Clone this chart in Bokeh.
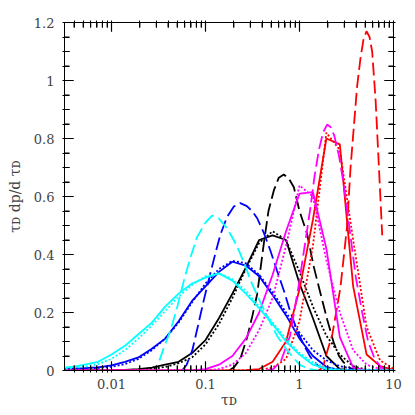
import math
from bokeh.plotting import figure
from bokeh.models import Range1d, FixedTicker, CustomJSTickFormatter, LogAxis, LinearAxis
from bokeh.embed import file_html
from bokeh.resources import INLINE

# ---- data: log10(tau_D) sample grid and curve values ----
grid_log = [-2.571, -2.429, -2.286, -2.143, -2.0, -1.857, -1.714, -1.571, -1.429,
            -1.286, -1.143, -1.0, -0.857, -0.714, -0.571, -0.429, -0.286, -0.143,
            0.0, 0.143, 0.286, 0.429, 0.571, 0.714, 0.857, 1.0]

cyan_solid = [0.008, 0.012, 0.02, 0.03, 0.055, 0.085, 0.125, 0.165, 0.22, 0.265, 0.30,
              0.32, 0.335, 0.31, 0.265, 0.215, 0.16, 0.10, 0.055, 0.02, 0.005, 0, 0, 0, 0, 0]
cyan_dotted = [0.005, 0.008, 0.013, 0.022, 0.04, 0.07, 0.11, 0.155, 0.205, 0.255, 0.295,
               0.325, 0.335, 0.315, 0.275, 0.22, 0.165, 0.11, 0.06, 0.028, 0.01, 0.003, 0, 0, 0, 0]
blue_solid = [0.005, 0.006, 0.008, 0.011, 0.018, 0.03, 0.045, 0.075, 0.11, 0.17, 0.24,
              0.29, 0.34, 0.375, 0.362, 0.325, 0.26, 0.19, 0.11, 0.05, 0.012, 0.002, 0, 0, 0, 0]
blue_dotted = [0.003, 0.004, 0.006, 0.009, 0.013, 0.022, 0.04, 0.07, 0.11, 0.165, 0.235,
               0.30, 0.35, 0.378, 0.37, 0.33, 0.27, 0.20, 0.13, 0.07, 0.035, 0.015, 0.005, 0.001, 0, 0]
black_solid = [0, 0, 0, 0, 0, 0.002, 0.005, 0.01, 0.02, 0.03, 0.06, 0.105, 0.18, 0.265,
               0.355, 0.45, 0.466, 0.45, 0.30, 0.18, 0.05, 0.005, 0, 0, 0, 0]
black_dotted = [0, 0, 0, 0, 0, 0.0, 0.003, 0.006, 0.012, 0.025, 0.045, 0.09, 0.16, 0.25,
                0.35, 0.44, 0.48, 0.45, 0.34, 0.22, 0.12, 0.055, 0.015, 0.003, 0, 0]
magenta_solid = [0, 0, 0, 0, 0, 0, 0, 0, 0, 0, 0, 0.005, 0.02, 0.05, 0.11, 0.20, 0.33,
                 0.48, 0.61, 0.615, 0.42, 0.115, 0.01, 0, 0, 0]
magenta_dotted = [0, 0, 0, 0, 0, 0, 0, 0, 0, 0, 0, 0.0, 0.005, 0.02, 0.06, 0.14, 0.25,
                  0.43, 0.638, 0.60, 0.38, 0.20, 0.07, 0.02, 0.005, 0]
red_solid = [0, 0, 0, 0, 0, 0, 0, 0, 0, 0, 0, 0, 0, 0, 0.001, 0.005, 0.03, 0.10, 0.28,
             0.52, 0.80, 0.78, 0.29, 0.055, 0.015, 0.002]
red_dotted = [0, 0, 0, 0, 0, 0, 0, 0, 0, 0, 0, 0, 0, 0, 0, 0.002, 0.01, 0.04, 0.17,
              0.43, 0.82, 0.76, 0.45, 0.15, 0.035, 0.006]

cyan_dash_log = [-1.49, -1.43, -1.37, -1.30, -1.23, -1.16, -1.09, -1.00, -0.93, -0.86, -0.77,
                 -0.70, -0.64, -0.57, -0.52, -0.43, -0.34, -0.24, -0.13, 0.0, 0.1, 0.2]
cyan_dash = [0.035, 0.09, 0.14, 0.22, 0.31, 0.39, 0.46, 0.51, 0.534, 0.525, 0.49,
             0.45, 0.41, 0.355, 0.31, 0.245, 0.184, 0.12, 0.069, 0.02, 0.005, 0.0]
blue_dash_log = [-1.25, -1.20, -1.14, -1.09, -1.02, -0.95, -0.89, -0.84, -0.77, -0.70, -0.63,
                 -0.56, -0.50, -0.45, -0.38, -0.31, -0.24, -0.167, -0.10, -0.025, 0.05,
                 0.117, 0.20, 0.28, 0.35]
blue_dash = [0.0, 0.02, 0.07, 0.14, 0.24, 0.333, 0.41, 0.47, 0.53, 0.565, 0.577,
             0.567, 0.548, 0.525, 0.475, 0.414, 0.345, 0.276, 0.205, 0.138, 0.085,
             0.046, 0.015, 0.003, 0.0]
black_dash_log = [-0.75, -0.70, -0.63, -0.556, -0.50, -0.45, -0.38, -0.33, -0.273, -0.22,
                  -0.167, -0.11, -0.06, 0.0, 0.082, 0.15, 0.22, 0.295, 0.365, 0.42, 0.47,
                  0.54, 0.60]
black_dash = [0.0, 0.01, 0.04, 0.115, 0.19, 0.264, 0.437, 0.55, 0.621, 0.665,
              0.676, 0.66, 0.632, 0.55, 0.47, 0.36, 0.27, 0.175, 0.095, 0.05, 0.028,
              0.008, 0.0]
magenta_dash_log = [-0.35, -0.28, -0.20, -0.10, 0.0, 0.06, 0.117, 0.16, 0.206, 0.25, 0.294,
                    0.33, 0.37, 0.42, 0.47, 0.54, 0.60, 0.667, 0.73, 0.80, 0.87, 0.95]
magenta_dash = [0.0, 0.005, 0.03, 0.12, 0.31, 0.44, 0.563, 0.67, 0.76, 0.82, 0.848,
                0.84, 0.81, 0.74, 0.644, 0.47, 0.32, 0.20, 0.10, 0.04, 0.01, 0.0]
red_dash_log = [0.20, 0.25, 0.277, 0.35, 0.436, 0.507, 0.543, 0.578, 0.613, 0.65, 0.68,
                0.713, 0.745, 0.773, 0.81, 0.845, 0.88]
red_dash = [0.0, 0.01, 0.046, 0.126, 0.287, 0.50, 0.70, 0.84, 0.98, 1.08, 1.14,
            1.17, 1.15, 1.10, 0.93, 0.70, 0.466]

x_major = [0.01, 0.1, 1, 10]
x_minor = [m * d for d in (0.001, 0.01, 0.1, 1) for m in range(2, 10)]
y_major = [0, 0.2, 0.4, 0.6, 0.8, 1.0, 1.2]
y_minor = [round(0.05 * i, 2) for i in range(25) if i % 4]

x_title = "τᴅ"
y_title = "τᴅ dp/d τᴅ"

FONT = "DejaVu Serif"
FW, FH = 329, 348
XMIN, XMAX = 10 ** -2.5, 10.0
YMIN, YMAX = 0.0, 1.2

p = figure(frame_width=FW, frame_height=FH, x_axis_type="log",
           x_range=Range1d(XMIN, XMAX), y_range=Range1d(YMIN, YMAX),
           output_backend="svg", toolbar_location=None,
           min_border_left=64, min_border_right=22, min_border_top=22,
           min_border_bottom=45)
p.xgrid.visible = False
p.ygrid.visible = False
p.outline_line_color = "black"

fmt = CustomJSTickFormatter(code="return String(tick);")
blank = CustomJSTickFormatter(code="return '';")


def style_ticks(ax):
    ax.major_tick_in = 9
    ax.major_tick_out = 2
    ax.minor_tick_in = 5
    ax.minor_tick_out = 2
    ax.major_tick_line_color = "black"
    ax.minor_tick_line_color = "black"


for ax, tk, mn, sd, title, tsd in ((p.xaxis[0], x_major, x_minor, 6, x_title, 0),
                                   (p.yaxis[0], y_major, y_minor, 8, y_title, 8)):
    ax.ticker = FixedTicker(ticks=tk, minor_ticks=mn)
    ax.formatter = fmt
    style_ticks(ax)
    ax.major_label_text_font = FONT
    ax.major_label_text_font_size = "13px"
    ax.major_label_standoff = sd
    ax.axis_label = title
    ax.axis_label_text_font = FONT
    ax.axis_label_text_font_size = "14px"
    ax.axis_label_text_font_style = "normal"
    ax.axis_label_standoff = tsd

top = LogAxis(ticker=FixedTicker(ticks=x_major, minor_ticks=x_minor), formatter=blank)
style_ticks(top)
top.major_label_standoff = 0
p.add_layout(top, "above")
right = LinearAxis(ticker=FixedTicker(ticks=y_major, minor_ticks=y_minor), formatter=blank)
style_ticks(right)
right.major_label_standoff = 0
p.add_layout(right, "right")

W = 1.8
DASH = "13 5"
DOT = "2 2"

series = [
    ("black", black_solid, black_dotted, black_dash_log, black_dash),
    ("#0000ff", blue_solid, blue_dotted, blue_dash_log, blue_dash),
    ("#ff0000", red_solid, red_dotted, red_dash_log, red_dash),
    ("#ff00ff", magenta_solid, magenta_dotted, magenta_dash_log, magenta_dash),
    ("#00ffff", cyan_solid, cyan_dotted, cyan_dash_log, cyan_dash),
]
grid_tau = [10 ** v for v in grid_log]
for color, solid, dotted, dlog, dval in series:
    p.line([10 ** v for v in dlog], dval, line_color=color, line_width=W, line_dash=DASH)
    p.line(grid_tau, dotted, line_color=color, line_width=W, line_dash=DOT)
    p.line(grid_tau, solid, line_color=color, line_width=W)

# inward ticks as one broken line per side (NaN gaps), pixel lengths -> data units
dex_per_px = (math.log10(XMAX) - math.log10(XMIN)) / FW
y_per_px = (YMAX - YMIN) / FH
nan = float("nan")
bx, by, tx, ty = [], [], [], []
for ticks, L in ((x_major, 9), (x_minor, 5)):
    for t in ticks:
        bx += [t, t, nan]
        by += [YMIN, YMIN + L * y_per_px, nan]
        tx += [t, t, nan]
        ty += [YMAX, YMAX - L * y_per_px, nan]
lx, ly, rx, ry = [], [], [], []
for ticks, L in ((y_major, 9), (y_minor, 5)):
    for t in ticks:
        lx += [XMIN, XMIN * 10 ** (L * dex_per_px), nan]
        ly += [t, t, nan]
        rx += [XMAX, XMAX / 10 ** (L * dex_per_px), nan]
        ry += [t, t, nan]
for xs, ys in ((bx, by), (tx, ty), (lx, ly), (rx, ry)):
    p.line(xs, ys, line_color="black", line_width=1.2)

open("out.html", "w").write(file_html(p, INLINE))
